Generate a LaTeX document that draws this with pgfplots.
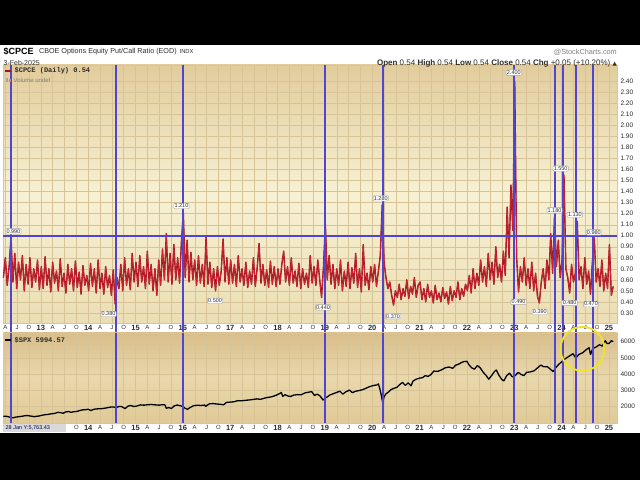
\documentclass[border=0pt]{standalone}
\usepackage{pgfplots}
\usepackage{pgfplotstable}
\pgfplotsset{compat=1.18}
\usepackage{fontspec}
\setmainfont{Liberation Sans}
\setmonofont{Liberation Mono}
\newfontfamily\dejavu{DejaVu Sans}
\definecolor{cpce}{RGB}{208,34,48}
\definecolor{cpcedark}{RGB}{150,24,34}
\definecolor{vline}{RGB}{80,68,210}
\definecolor{gridc}{RGB}{214,196,152}
\definecolor{bgtop}{RGB}{226,204,156}
\definecolor{bgmid}{RGB}{247,241,211}
\definecolor{bgbot}{RGB}{236,222,180}
\definecolor{bbtop}{RGB}{216,190,138}
\definecolor{bbmid}{RGB}{233,216,172}
\definecolor{bbbot}{RGB}{224,201,150}
\definecolor{labc}{RGB}{45,45,45}
\definecolor{ylw}{RGB}{238,228,40}

\pgfplotstableread[row sep=\\]{
y\\
0.62\\0.80\\0.55\\0.72\\0.99\\0.58\\0.84\\0.52\\0.76\\0.60\\0.82\\0.50\\0.74\\0.56\\0.80\\0.53\\0.70\\0.58\\0.78\\0.51\\
0.72\\0.52\\0.81\\0.55\\0.70\\0.49\\0.76\\0.57\\0.68\\0.50\\0.79\\0.54\\0.66\\0.48\\0.74\\0.56\\0.70\\0.50\\0.77\\0.53\\0.67\\0.47\\0.73\\0.55\\0.64\\
0.50\\0.75\\0.54\\0.70\\0.48\\0.78\\0.52\\0.66\\0.47\\0.72\\0.53\\0.64\\0.46\\0.69\\0.38\\0.62\\0.52\\0.74\\0.50\\0.80\\0.55\\0.70\\0.51\\0.84\\0.58\\
0.76\\0.54\\0.82\\0.58\\0.72\\0.52\\0.86\\0.56\\0.74\\0.50\\0.70\\0.46\\0.78\\0.55\\0.88\\0.60\\1.02\\0.58\\0.84\\0.56\\0.92\\0.60\\0.80\\0.57\\0.95\\
1.21\\0.62\\0.96\\0.58\\0.85\\0.60\\0.78\\0.55\\0.82\\0.57\\0.74\\0.54\\0.99\\0.56\\0.76\\0.53\\0.70\\0.50\\0.72\\0.55\\0.68\\0.97\\0.58\\0.80\\0.56\\
0.78\\0.57\\0.74\\0.54\\0.82\\0.58\\0.70\\0.55\\0.76\\0.53\\0.68\\0.56\\0.80\\0.54\\0.71\\0.93\\0.57\\0.74\\0.55\\0.69\\0.53\\0.77\\0.56\\0.72\\0.54\\
0.70\\0.56\\0.74\\0.86\\0.58\\0.72\\0.55\\0.80\\0.57\\0.68\\0.54\\0.75\\0.52\\0.70\\0.56\\0.66\\0.53\\0.82\\0.57\\0.72\\0.55\\0.78\\0.60\\0.44\\0.72\\
1.11\\0.60\\0.82\\0.56\\0.74\\0.52\\0.70\\0.55\\0.78\\0.50\\0.68\\0.54\\0.76\\0.52\\0.71\\0.57\\0.84\\0.53\\0.70\\0.49\\0.92\\0.55\\0.66\\0.51\\0.72\\
0.58\\0.74\\0.54\\0.68\\0.82\\1.28\\0.76\\0.62\\0.52\\0.58\\0.46\\0.37\\0.50\\0.44\\0.56\\0.42\\0.52\\0.45\\0.60\\0.43\\0.54\\0.47\\0.62\\0.44\\0.55\\
0.58\\0.42\\0.52\\0.40\\0.56\\0.44\\0.50\\0.39\\0.55\\0.42\\0.48\\0.40\\0.53\\0.43\\0.49\\0.38\\0.54\\0.41\\0.50\\0.44\\0.58\\0.42\\0.52\\0.45\\0.56\\
0.50\\0.64\\0.48\\0.70\\0.52\\0.66\\0.55\\0.78\\0.58\\0.72\\0.54\\0.84\\0.60\\0.76\\0.56\\0.90\\0.62\\0.74\\0.58\\0.86\\0.64\\1.26\\0.80\\1.46\\1.05\\
2.40\\0.80\\0.49\\0.72\\0.58\\0.80\\0.55\\0.70\\0.52\\0.76\\0.50\\0.66\\0.45\\0.39\\0.58\\0.70\\0.52\\0.78\\0.60\\1.02\\0.66\\1.18\\0.72\\0.96\\0.62\\
0.78\\1.55\\0.70\\0.62\\0.48\\0.74\\0.58\\0.66\\1.13\\0.60\\0.72\\0.52\\0.80\\0.56\\0.68\\0.47\\0.76\\0.98\\0.58\\0.70\\0.54\\0.78\\0.50\\0.66\\0.52\\
0.92\\0.46\\0.54\\
}\cpcedata

\pgfplotstableread[row sep=\\]{
x y\\
2012.21 1390\\2012.26 1400\\2012.31 1370\\2012.36 1330\\2012.41 1300\\2012.46 1340\\2012.51 1360\\2012.56 1380\\2012.61 1400\\2012.66 1430\\2012.71 1440\\2012.76 1420\\2012.81 1400\\2012.86 1370\\2012.91 1400\\2012.96 1410\\
2013.01 1450\\2013.08 1490\\2013.15 1510\\2013.22 1550\\2013.29 1570\\2013.36 1640\\2013.42 1620\\2013.47 1580\\2013.52 1660\\2013.58 1690\\2013.64 1640\\2013.70 1680\\2013.76 1690\\2013.82 1750\\2013.88 1790\\2013.94 1800\\
2014.00 1830\\2014.06 1750\\2014.12 1830\\2014.18 1850\\2014.25 1860\\2014.32 1880\\2014.40 1920\\2014.47 1960\\2014.54 1970\\2014.58 1920\\2014.64 1990\\2014.70 2000\\2014.78 1870\\2014.84 2020\\2014.90 2060\\2014.96 2000\\
2015.02 2020\\2015.10 2100\\2015.18 2080\\2015.26 2110\\2015.34 2120\\2015.42 2100\\2015.50 2080\\2015.56 2110\\2015.62 2100\\2015.65 1890\\2015.70 1930\\2015.76 1880\\2015.82 2040\\2015.88 2090\\2015.94 2050\\
2016.00 2000\\2016.05 1880\\2016.10 1830\\2016.15 1930\\2016.22 2040\\2016.30 2080\\2016.38 2060\\2016.46 2090\\2016.48 2010\\2016.56 2160\\2016.64 2180\\2016.72 2150\\2016.80 2130\\2016.86 2100\\2016.92 2250\\
2017.00 2270\\2017.08 2290\\2017.16 2360\\2017.24 2350\\2017.32 2380\\2017.40 2400\\2017.48 2430\\2017.56 2470\\2017.64 2440\\2017.72 2510\\2017.80 2560\\2017.88 2600\\2017.96 2680\\
2018.04 2790\\2018.08 2860\\2018.11 2620\\2018.16 2730\\2018.22 2640\\2018.28 2620\\2018.34 2700\\2018.42 2730\\2018.50 2720\\2018.58 2840\\2018.66 2880\\2018.72 2920\\2018.78 2680\\2018.84 2760\\2018.90 2640\\2018.96 2400\\
2019.02 2530\\2019.10 2700\\2019.18 2790\\2019.26 2880\\2019.32 2940\\2019.38 2760\\2019.44 2900\\2019.52 3010\\2019.58 2850\\2019.64 2930\\2019.72 2980\\2019.80 3040\\2019.88 3140\\2019.96 3240\\
2020.04 3300\\2020.10 3330\\2020.13 3390\\2020.16 3100\\2020.19 2700\\2020.22 2240\\2020.25 2600\\2020.29 2780\\2020.34 2880\\2020.40 3050\\2020.46 3120\\2020.52 3180\\2020.58 3350\\2020.64 3480\\2020.70 3300\\2020.76 3450\\2020.82 3270\\2020.86 3560\\2020.92 3670\\
2021.00 3750\\2021.06 3770\\2021.12 3900\\2021.18 3850\\2021.24 3970\\2021.30 4180\\2021.38 4160\\2021.46 4250\\2021.54 4380\\2021.62 4430\\2021.70 4350\\2021.76 4540\\2021.82 4600\\2021.88 4700\\2021.94 4770\\
2022.00 4780\\2022.04 4580\\2022.10 4380\\2022.16 4300\\2022.22 4520\\2022.28 4380\\2022.34 4120\\2022.40 3930\\2022.46 3680\\2022.52 3900\\2022.58 4150\\2022.62 4250\\2022.68 3900\\2022.74 3650\\2022.78 3580\\2022.84 3900\\2022.90 4050\\2022.96 3820\\
2023.02 3900\\2023.08 4100\\2023.14 3980\\2023.20 3900\\2023.26 4100\\2023.34 4130\\2023.42 4200\\2023.50 4400\\2023.56 4550\\2023.62 4450\\2023.70 4450\\2023.76 4300\\2023.82 4150\\2023.88 4400\\2023.94 4600\\
2024.00 4750\\2024.08 4950\\2024.16 5100\\2024.24 5250\\2024.30 4980\\2024.36 5200\\2024.44 5300\\2024.52 5500\\2024.58 5620\\2024.61 5200\\2024.66 5580\\2024.72 5650\\2024.80 5800\\2024.86 5720\\2024.92 6050\\2024.96 5880\\
2025.00 5880\\2025.05 6050\\2025.09 5994\\
}\spxdata

\newcommand{\yr}[1]{{\bfseries\fontsize{7.5}{8}\selectfont #1}}

\tikzset{
  vl/.style={draw=vline, line width=2pt},
  ann/.style={draw=gray!70, fill=white, inner sep=0.8pt, rounded corners=1pt, font=\fontsize{5.5}{6}\selectfont, text=labc},
}

\pgfplotsset{
  common/.style={
    scale only axis, width=614pt,
    xmin=2012.21, xmax=2025.17,
    clip=false,
    xtick={2012.25,2012.5,2012.75,2013,2013.25,2013.5,2013.75,2014,2014.25,2014.5,2014.75,2015,2015.25,2015.5,2015.75,2016,2016.25,2016.5,2016.75,2017,2017.25,2017.5,2017.75,2018,2018.25,2018.5,2018.75,2019,2019.25,2019.5,2019.75,2020,2020.25,2020.5,2020.75,2021,2021.25,2021.5,2021.75,2022,2022.25,2022.5,2022.75,2023,2023.25,2023.5,2023.75,2024,2024.25,2024.5,2024.75,2025},
    xticklabel style={font=\fontsize{6}{7}\selectfont, text=labc, yshift=1pt},
    yticklabel style={font=\fontsize{6.5}{7}\selectfont, text=labc},
    yticklabel pos=right,
    major tick length=0pt,
    grid=major,
    major grid style={draw=gridc, line width=0.4pt},
    axis line style={draw=gray!45},
    /pgf/number format/assume math mode=true,
  },
}

\begin{document}
\begin{tikzpicture}
\fill[black] (0pt,0pt) rectangle (640pt,480pt);
\fill[white] (0pt,47pt) rectangle (640pt,435pt);

% ---------- top panel ----------
\begin{axis}[common,
  at={(3pt,157pt)}, anchor=south west, height=258pt,
  ymin=0.21, ymax=2.55,
  xticklabels={A,J,O,\yr{13},A,J,O,\yr{14},A,J,O,\yr{15},A,J,O,\yr{16},A,J,O,\yr{17},A,J,O,\yr{18},A,J,O,\yr{19},A,J,O,\yr{20},A,J,O,\yr{21},A,J,O,\yr{22},A,J,O,\yr{23},A,J,O,\yr{24},A,J,O,\yr{25}},
  ytick={0.3,0.4,0.5,0.6,0.7,0.8,0.9,1.0,1.1,1.2,1.3,1.4,1.5,1.6,1.7,1.8,1.9,2.0,2.1,2.2,2.3,2.4},
  /pgf/number format/fixed, /pgf/number format/fixed zerofill, /pgf/number format/precision=2,
  axis background/.style={top color=bgtop, bottom color=bgbot, middle color=bgmid},
]
\addplot[cpcedark, line width=1.4pt, line join=round] table[x expr={2012.21+0.04*\coordindex}, y=y] {\cpcedata};
\addplot[cpce, line width=0.7pt, line join=round] table[x expr={2012.21+0.04*\coordindex}, y=y] {\cpcedata};
\draw[vl] (axis cs:2012.21,1) -- (axis cs:2025.17,1);
\pgfplotsinvokeforeach{2012.38,2014.59,2016.01,2019.01,2020.23,2023.0,2023.87,2024.03,2024.31,2024.67}{
  \draw[vl] (axis cs:#1,0.12) -- (axis cs:#1,2.55);
}
\node[ann] at (axis cs:2012.42,1.04) {0.990};
\node[ann] at (axis cs:2014.43,0.29) {0.380};
\node[ann] at (axis cs:2015.97,1.27) {1.210};
\node[ann] at (axis cs:2016.68,0.41) {0.500};
\node[ann] at (axis cs:2018.96,0.35) {0.440};
\node[ann] at (axis cs:2020.18,1.34) {1.280};
\node[ann] at (axis cs:2020.44,0.27) {0.370};
\node[ann] at (axis cs:2022.99,2.48) {2.400};
\node[ann] at (axis cs:2023.09,0.40) {0.490};
\node[ann] at (axis cs:2023.54,0.31) {0.390};
\node[ann] at (axis cs:2023.85,1.23) {1.180};
\node[ann] at (axis cs:2023.98,1.61) {1.550};
\node[ann] at (axis cs:2024.28,1.19) {1.130};
\node[ann] at (axis cs:2024.17,0.39) {0.480};
\node[ann] at (axis cs:2024.68,1.03) {0.980};
\node[ann] at (axis cs:2024.62,0.38) {0.470};
\end{axis}

% ---------- bottom panel ----------
\begin{axis}[common,
  at={(3pt,57pt)}, anchor=south west, height=90pt,
  ymin=1000, ymax=6540,
  xticklabels={,,,,,,O,\yr{14},A,J,O,\yr{15},A,J,O,\yr{16},A,J,O,\yr{17},A,J,O,\yr{18},A,J,O,\yr{19},A,J,O,\yr{20},A,J,O,\yr{21},A,J,O,\yr{22},A,J,O,\yr{23},A,J,O,\yr{24},A,J,O,\yr{25}},
  ytick={2000,3000,4000,5000,6000},
  /pgf/number format/1000 sep={},
  axis background/.style={top color=bbtop, bottom color=bbbot, middle color=bbmid},
]
\addplot[black, line width=1.3pt, line join=round] table[x=x, y=y] {\spxdata};
\pgfplotsinvokeforeach{2012.38,2014.59,2016.01,2019.01,2020.23,2023.0,2023.87,2024.03,2024.31,2024.67}{
  \draw[vl] (axis cs:#1,1000) -- (axis cs:#1,6540);
}
\draw[ylw, line width=1.8pt] (axis cs:2024.44,5550) circle[radius=22pt];
\end{axis}

% ---------- texts ----------
\node[anchor=west, inner sep=0pt, font=\bfseries\fontsize{9}{9}\selectfont] at (3pt,428.5pt) {\$CPCE};
\node[anchor=west, inner sep=0pt, font=\fontsize{7.2}{8}\selectfont, text=labc] at (38.5pt,428.5pt) {CBOE Options Equity Put/Call Ratio (EOD)\hspace{3pt}{\fontsize{5.8}{6}\selectfont INDX}};
\node[anchor=west, inner sep=0pt, font=\fontsize{7}{7}\selectfont, text=labc] at (3pt,417pt) {3-Feb-2025};
\node[anchor=east, inner sep=0pt, font=\fontsize{7.3}{8}\selectfont, text=gray] at (617pt,427.5pt) {@StockCharts.com};
\node[anchor=east, inner sep=0pt, font=\fontsize{8}{9}\selectfont, text=labc] at (617pt,417pt) {\textbf{Open} 0.54 \textbf{High} 0.54 \textbf{Low} 0.54 \textbf{Close} 0.54 \textbf{Chg} +0.05 (+10.20\%) {\dejavu\fontsize{5.5}{6}\selectfont ▲}};

\draw[cpcedark, line width=1.6pt] (5pt,409pt) -- (11pt,409pt);
\node[anchor=west, inner sep=0pt, font=\ttfamily\bfseries\fontsize{7}{7}\selectfont, text=labc] at (14pt,409pt) {\$CPCE (Daily) 0.54};
\fill[gray!70] (6pt,398pt) rectangle (8pt,402pt);
\fill[cpce!60] (9pt,398pt) rectangle (11pt,401pt);
\node[anchor=west, inner sep=0pt, font=\fontsize{6}{7}\selectfont, text=gray] at (13pt,400pt) {Volume undef};

\draw[black, line width=1.6pt] (5pt,140pt) -- (11pt,140pt);
\node[anchor=west, inner sep=0pt, font=\ttfamily\bfseries\fontsize{7}{7}\selectfont, text=labc] at (14pt,140pt) {\$SPX 5994.57};

\fill[gray!30] (3pt,47.5pt) rectangle (66pt,56pt);
\node[anchor=west, inner sep=0pt, font=\fontsize{5.5}{6}\selectfont, text=black!70!blue] at (5pt,51.7pt) {28 Jan Y:5,763.43};
\end{tikzpicture}
\end{document}
